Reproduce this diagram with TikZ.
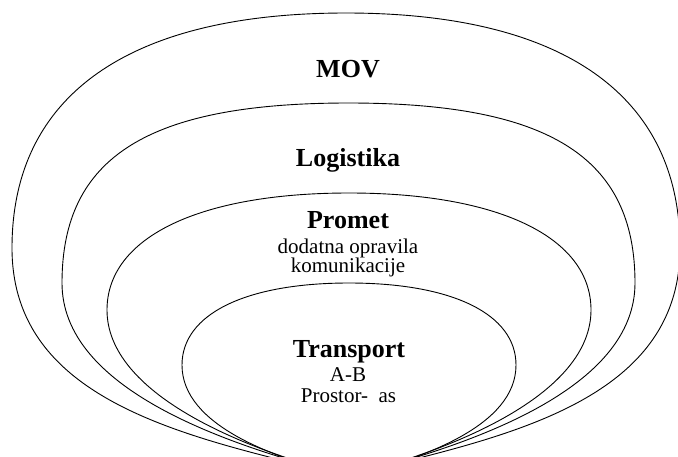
\documentclass[tikz,border=0pt]{standalone}
\usepackage{fontspec}
\setmainfont{Liberation Serif}
\tikzset{
  eggline/.style={draw=black, line width=0.9pt},
  bigtitle/.style={anchor=base, inner sep=0pt, font=\fontsize{26}{26}\selectfont\bfseries},
  smalltext/.style={anchor=base, inner sep=0pt, font=\fontsize{21}{21}\selectfont},
}
% #1 xl, #2 xr, #3 top y, #4 y of widest point, #5 bottom tip y,
% #6 top fullness, #7 bottom vertical handle, #8 bottom horizontal handle
\newcommand{\eggpath}[8]{%
  \pgfmathsetmacro{\ecx}{(#1+#2)/2}%
  \pgfmathsetmacro{\erx}{(#2-#1)/2}%
  \pgfmathsetmacro{\ert}{#4-#3}%
  \pgfmathsetmacro{\erb}{#5-#4}%
  \pgfmathsetmacro{\ehd}{#8*\erx}%
  \draw[eggline] (#1,#4)
    .. controls (#1,{#4-#6*\ert}) and ({\ecx-#6*\erx},#3) .. (\ecx,#3)
    .. controls ({\ecx+#6*\erx},#3) and (#2,{#4-#6*\ert}) .. (#2,#4)
    .. controls (#2,{#4+#7*\erb}) and ({\ecx+\ehd},{#5-0.25*\ehd}) .. (\ecx,#5)
    .. controls ({\ecx-\ehd},{#5-0.25*\ehd}) and (#1,{#4+#7*\erb}) .. (#1,#4) -- cycle;
}
\begin{document}
\begin{tikzpicture}[x=1pt,y=-1pt]
  \useasboundingbox (0,0) rectangle (678,456);
  \clip (0,0) rectangle (678,456);
  \eggpath{12}{680}{13}{248}{476}{0.65}{0.69}{0.45}
  \eggpath{62}{635}{103}{283}{476}{0.70}{0.54}{0.45}
  \eggpath{107}{591}{193}{310}{476}{0.62}{0.50}{0.45}
  \eggpath{182}{516}{283}{365}{477}{0.62}{0.54}{0.45}
  \node[bigtitle] (mov) at (348,77) {MOV};
  \node[bigtitle] (log) at (348,166) {Logistika};
  \node[bigtitle] (pro) at (348,228) {Promet};
  \node[smalltext] (pro1) at (348,253) {dodatna opravila};
  \node[smalltext] (pro2) at (348,272) {komunikacije};
  \node[bigtitle] (tra) at (349,357) {Transport};
  \node[smalltext] (tra1) at (348,381) {A-B};
  \node[smalltext] (tra2) at (348.5,402) {Prostor-~~as};
\end{tikzpicture}
\end{document}
